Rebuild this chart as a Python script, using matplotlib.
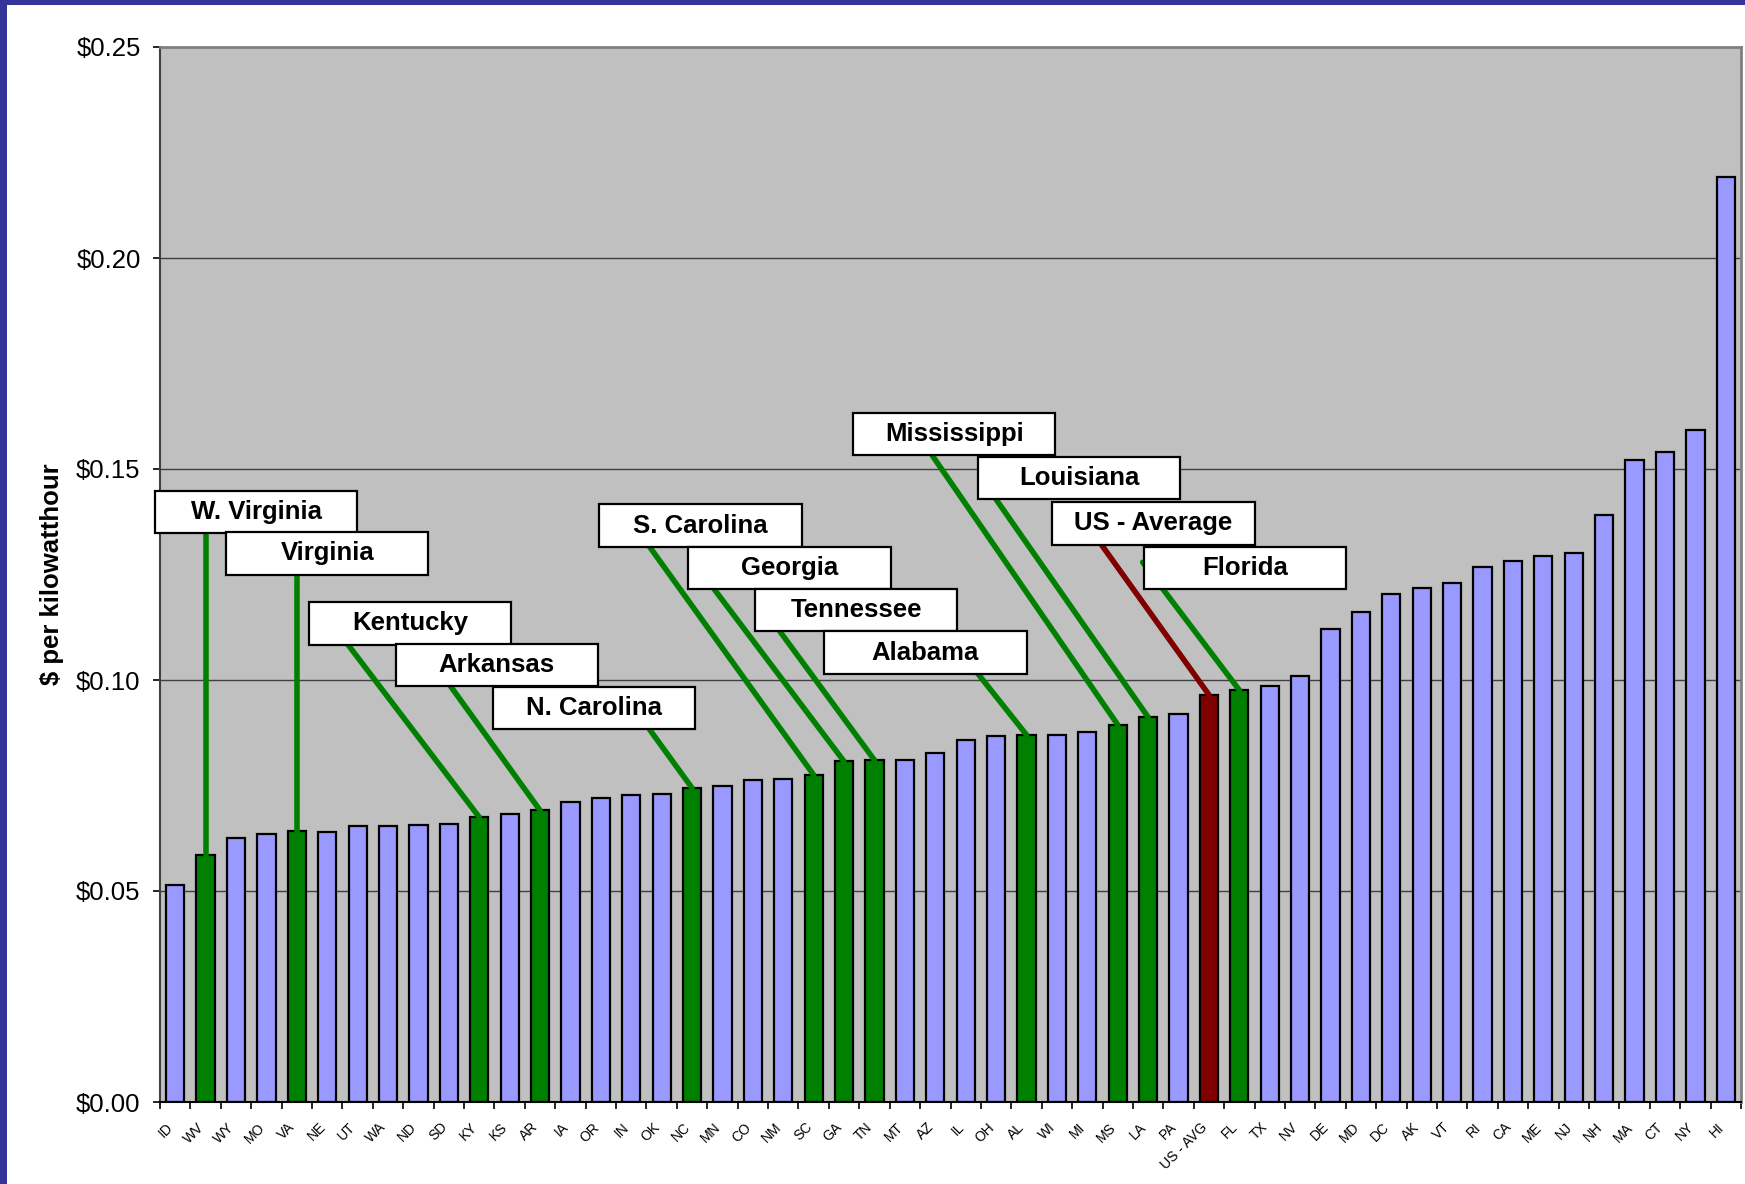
import matplotlib
matplotlib.use("Agg")
import matplotlib.pyplot as plt
from matplotlib.patches import Rectangle
from matplotlib.ticker import FixedLocator, FuncFormatter
from matplotlib.transforms import ScaledTranslation

plt.rcParams['font.family'] = ['Liberation Sans', 'DejaVu Sans']

# ---- data ----
states = ["ID", "WV", "WY", "MO", "VA", "NE", "UT", "WA", "ND", "SD",
          "KY", "KS", "AR", "IA", "OR", "IN", "OK", "NC", "MN", "CO",
          "NM", "SC", "GA", "TN", "MT", "AZ", "IL", "OH", "AL", "WI",
          "MI", "MS", "LA", "PA", "US - AVG", "FL", "TX", "NV", "DE", "MD",
          "DC", "AK", "VT", "RI", "CA", "ME", "NJ", "NH", "MA", "CT",
          "NY", "HI"]
prices = [0.0514, 0.0585, 0.0625, 0.0636, 0.0641, 0.0640, 0.0654, 0.0654, 0.0657, 0.0659,
          0.0675, 0.0683, 0.0691, 0.0712, 0.0720, 0.0728, 0.0730, 0.0744, 0.0749, 0.0762,
          0.0765, 0.0775, 0.0807, 0.0810, 0.0810, 0.0828, 0.0857, 0.0868, 0.0870, 0.0870,
          0.0876, 0.0894, 0.0912, 0.0920, 0.0965, 0.0976, 0.0986, 0.1010, 0.1121, 0.1160,
          0.1203, 0.1218, 0.1229, 0.1268, 0.1282, 0.1295, 0.1300, 0.1392, 0.1522, 0.1540,
          0.1593, 0.2191]
southern_states = ["WV", "VA", "KY", "AR", "NC", "SC", "GA", "TN", "AL", "MS", "LA", "FL"]
average_label = "US - AVG"

callout_texts = ["W. Virginia", "Virginia", "Kentucky", "Arkansas", "N. Carolina",
                 "S. Carolina", "Georgia", "Tennessee", "Alabama", "Mississippi",
                 "Louisiana", "US - Average", "Florida"]
callout_targets = ["WV", "VA", "KY", "AR", "NC", "SC", "GA", "TN", "AL", "MS",
                   "LA", "US - AVG", "FL"]
yticks = [0.00, 0.05, 0.10, 0.15, 0.20, 0.25]

# ---- layout (positions of callout boxes: left x, bottom y; line start x, y) ----
box_left = [-0.66, 1.68, 4.39, 7.25, 10.44, 13.95, 16.88, 19.08, 21.35, 22.30, 26.40, 28.85, 31.86]
box_bottom = [0.1348, 0.1250, 0.1084, 0.0986, 0.0883, 0.1316, 0.1216, 0.1116, 0.1015,
              0.1532, 0.1429, 0.1321, 0.1216]
line_x0 = [1.0, 4.0, 5.68, 9.05, 15.60, 15.60, 17.72, 19.88, 26.4, 24.9, 26.99, 30.46, 31.82]
line_y0 = [0.1348, 0.1250, 0.1084, 0.0986, 0.0883, 0.1316, 0.1216, 0.1116, 0.1015,
           0.1532, 0.1429, 0.1321, 0.1279]
BOX_W = 6.65
BOX_H = 0.0100

LAV = "#9999FF"
GREEN = "#008000"
DARKRED = "#800000"
BORDER = "#333399"

fig = plt.figure(figsize=(17.45, 11.84), dpi=100)
fig.patch.set_facecolor("white")
ax = fig.add_axes([160 / 1745, 1 - 1102 / 1184, 1581 / 1745, 1055 / 1184])
ax.set_facecolor("#C0C0C0")

x = list(range(len(states)))
colors = []
for s in states:
    if s == average_label:
        colors.append(DARKRED)
    elif s in southern_states:
        colors.append(GREEN)
    else:
        colors.append(LAV)

ax.bar(x, prices, width=0.6, color=colors, edgecolor="black", linewidth=1.6, zorder=2)

ax.set_xlim(-0.5, len(states) - 0.5)
ax.set_ylim(0, 0.25)

# grid
for yv in yticks[1:-1]:
    ax.axhline(yv, color="#404040", linewidth=1.0, zorder=1)

# spines
ax.spines["top"].set_color("#808080")
ax.spines["top"].set_linewidth(2)
ax.spines["right"].set_color("#808080")
ax.spines["right"].set_linewidth(2)
ax.spines["left"].set_color("#404040")
ax.spines["left"].set_linewidth(1.5)
ax.spines["bottom"].set_color("black")
ax.spines["bottom"].set_linewidth(1.5)

# y ticks
ax.set_yticks(yticks)
ax.yaxis.set_major_formatter(FuncFormatter(lambda v, p: "${:.2f}".format(v)))
ax.tick_params(axis="y", which="major", direction="out", length=5, width=1.2,
               labelsize=18.5, pad=9, color="black")
ax.set_ylabel("$ per kilowatthour", fontsize=18.5, fontweight="bold", labelpad=9)

# x ticks: labels at centers, marks at boundaries
ax.set_xticks(x)
ax.set_xticklabels(states, rotation=45, ha="right", rotation_mode="anchor", fontsize=10)
ax.tick_params(axis="x", which="major", length=0, pad=13)
shift = ScaledTranslation(-9 / 100, 0, fig.dpi_scale_trans)
for lbl in ax.get_xticklabels():
    lbl.set_transform(lbl.get_transform() + shift)
ax.xaxis.set_minor_locator(FixedLocator([i - 0.5 for i in range(len(states) + 1)]))
ax.tick_params(axis="x", which="minor", direction="out", length=5, width=1.2, color="black")

# callouts
idx = {s: i for i, s in enumerate(states)}
for txt, tgt, bl, bb, lx, ly in zip(callout_texts, callout_targets, box_left, box_bottom,
                                    line_x0, line_y0):
    i = idx[tgt]
    lc = DARKRED if tgt == average_label else GREEN
    ax.plot([lx, i], [ly, prices[i]], color=lc, linewidth=4, zorder=3,
            solid_capstyle="round")
for k, (txt, bl, bb) in enumerate(zip(callout_texts, box_left, box_bottom)):
    ax.add_patch(Rectangle((bl, bb), BOX_W, BOX_H, facecolor="white", edgecolor="black",
                           linewidth=1.6, zorder=4 + k * 0.01, clip_on=False))
    ax.text(bl + BOX_W / 2, bb + BOX_H / 2, txt, ha="center", va="center",
            fontsize=18.5, fontweight="bold", zorder=4.5 + k * 0.01)

# figure border (left and top strips)
fig.patches.append(Rectangle((0, 0), 7 / 1745, 1, transform=fig.transFigure,
                             facecolor=BORDER, edgecolor="none", zorder=10))
fig.patches.append(Rectangle((0, 1 - 5 / 1184), 1, 5 / 1184, transform=fig.transFigure,
                             facecolor=BORDER, edgecolor="none", zorder=10))

fig.savefig("out.png", dpi=100, facecolor="white")
